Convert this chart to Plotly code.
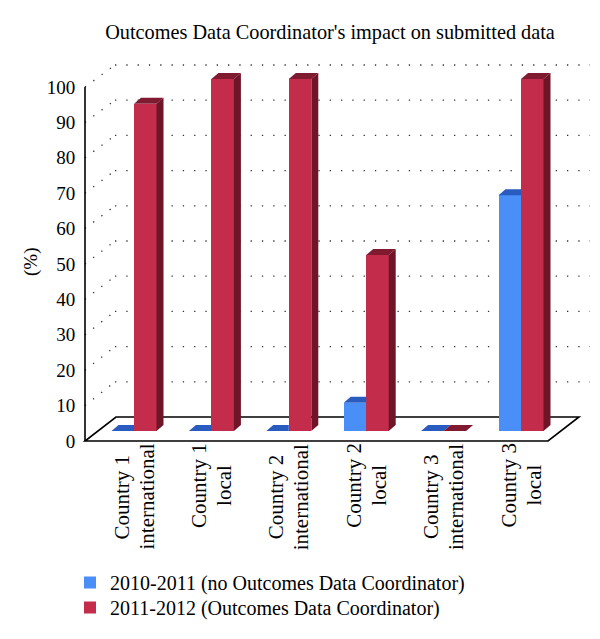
import plotly.graph_objects as go

W, H = 600, 639
FONT = "Liberation Serif"

title = "Outcomes Data Coordinator's impact on submitted data"
countries = ["Country 1", "Country 1", "Country 2", "Country 2", "Country 3", "Country 3"]
scopes = ["international", "local", "international", "local", "international", "local"]
series_names = ["2010-2011 (no Outcomes Data Coordinator)", "2011-2012 (Outcomes Data Coordinator)"]
blue_values = [0, 0, 0, 8, 0, 67]
red_values = [93, 100, 100, 50, 0, 100]
y_ticks = [0, 10, 20, 30, 40, 50, 60, 70, 80, 90, 100]

BLUE, BLUE_TOP = "#4a8ff7", "#2a5bbf"
RED, RED_TOP, RED_SIDE = "#c32c4b", "#7f1a30", "#6e1528"

# pixel <-> data mapping of the bar plane
X0, X_STEP = 134, 77.4
Y0, Y_SCALE = 431, 3.52
# the front edge (axis) sits on a slightly different scale
AXIS_Y0, AXIS_SCALE = 441, 3.54
BAR_W = 22.5 / X_STEP
DX = 7 / X_STEP
DY = 6 / Y_SCALE


def xd(px):
    return (px - X0) / X_STEP


def yd(py):
    return (Y0 - py) / Y_SCALE


idx = list(range(len(countries)))
fig = go.Figure()

fig.add_trace(go.Bar(x=idx, y=blue_values, width=BAR_W, offset=-BAR_W, name=series_names[0],
                     marker=dict(color=BLUE, line_width=0), legend="legend"))
fig.add_trace(go.Bar(x=idx, y=red_values, width=BAR_W, offset=0, name=series_names[1],
                     marker=dict(color=RED, line_width=0), legend="legend2"))


def faces(values, left, others=None):
    top_x, top_y, side_x, side_y = [], [], [], []
    for k, (i, v) in enumerate(zip(idx, values)):
        l, r = i + left, i + left + BAR_W
        # blue top is cut where the taller red bar stands in front of it
        cut = others is not None and others[k] > v
        top_x += [l, l + DX, r if cut else r + DX, r, None]
        top_y += [v, v + DY, v + DY, v, None]
        side_x += [r, r + DX, r + DX, r, None]
        side_y += [0, DY, v + DY, v, None]
    return top_x, top_y, side_x, side_y


bt_x, bt_y, _, _ = faces(blue_values, -BAR_W, red_values)
rt_x, rt_y, rs_x, rs_y = faces(red_values, 0)
for fx, fy, col in [(bt_x, bt_y, BLUE_TOP), (rs_x, rs_y, RED_SIDE), (rt_x, rt_y, RED_TOP)]:
    fig.add_trace(go.Scatter(x=fx, y=fy, mode="lines", fill="toself", fillcolor=col,
                             line=dict(width=0, color=col), hoverinfo="skip", showlegend=False))

# trace only so the left axis gets drawn
fig.add_trace(go.Scatter(x=[0], y=[0], yaxis="y2", mode="markers", marker_opacity=0,
                         hoverinfo="skip", showlegend=False))

# back wall and side wall dotted grid, floor outline
DOTS = dict(color="#333333", width=1.3, dash="1.3px,10px")
for v in y_ticks[1:]:
    back = yd(417 - Y_SCALE * v)
    front = yd(AXIS_Y0 - AXIS_SCALE * v)
    fig.add_shape(type="line", x0=xd(115), x1=xd(590), y0=back, y1=back, line=DOTS, layer="below")
    fig.add_shape(type="line", x0=xd(85), x1=xd(115), y0=front, y1=back,
                  line=dict(color="#333333", width=1.3, dash="1.3px,9px"), layer="below")

floor_px = [(85, 441), (548, 441), (579, 417), (116, 417)]
path = "M " + " L ".join(f"{xd(a)},{yd(b)}" for a, b in floor_px) + " Z"
fig.add_shape(type="path", path=path, line=dict(color="black", width=1.6), layer="below")
fig.add_shape(type="line", x0=xd(85), x1=xd(85), y0=yd(441), y1=yd(87),
              line=dict(color="black", width=1.6), layer="below")

# two rotated lines per label, centred on each other
LABEL_FONT = dict(family=FONT, size=21, color="black")
for i, country, scope in zip(idx, countries, scopes):
    mid = 1 - (497 if scope == "international" else 485) / H
    fig.add_annotation(x=i, xref="x", xshift=-12.5, y=mid, yref="paper", yanchor="middle",
                       xanchor="center", text=country, textangle=-90, showarrow=False, font=LABEL_FONT)
    fig.add_annotation(x=i, xref="x", xshift=12.5, y=mid, yref="paper", yanchor="middle",
                       xanchor="center", text=scope, textangle=-90, showarrow=False, font=LABEL_FONT)

fig.add_annotation(x=31 / W, xref="paper", xanchor="center", y=1 - 262 / H, yref="paper",
                   yanchor="middle", text="(%)", textangle=-90, showarrow=False,
                   font=dict(family=FONT, size=19, color="black"))

legend_style = dict(xanchor="left", yanchor="top", bgcolor="rgba(0,0,0,0)",
                    font=dict(family=FONT, size=20, color="black"))

fig.update_layout(
    width=W, height=H, autosize=False,
    margin=dict(l=0, r=0, t=0, b=0),
    paper_bgcolor="white", plot_bgcolor="white",
    barmode="overlay", bargap=0,
    font=dict(family=FONT, size=19, color="black"),
    title=dict(text=title, x=330 / W, xanchor="center", y=1 - 32 / H, yanchor="middle",
               font=dict(family=FONT, size=20.3, color="black")),
    xaxis=dict(range=[xd(0), xd(W)], domain=[0, 1], visible=False, fixedrange=True),
    yaxis=dict(range=[yd(H), yd(0)], domain=[0, 1], visible=False, fixedrange=True),
    yaxis2=dict(overlaying="y", anchor="free", position=85 / W, side="left",
                range=[(AXIS_Y0 - H) / AXIS_SCALE, AXIS_Y0 / AXIS_SCALE], tickvals=y_ticks,
                showgrid=False, zeroline=False, showline=False, fixedrange=True,
                ticks="outside", ticklen=6, tickcolor="rgba(0,0,0,0)",
                tickfont=dict(family=FONT, size=19, color="black")),
    legend=dict(x=70 / W, y=1 - 563 / H, **legend_style),
    legend2=dict(x=70 / W, y=1 - 588 / H, **legend_style),
    showlegend=True,
)

# the default page keeps the browser's 8px body margin
fig.write_html("out.html", config={"displayModeBar": False},
               post_script="document.body.style.margin='0';")
